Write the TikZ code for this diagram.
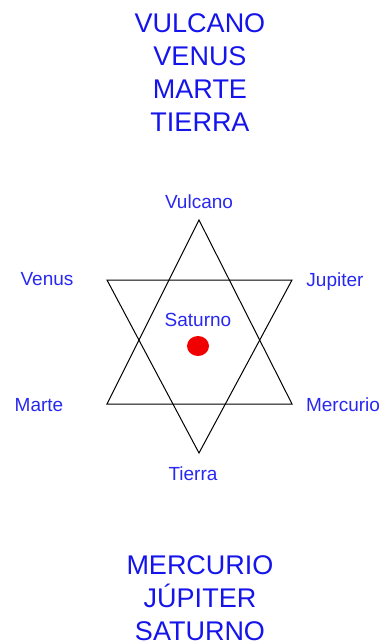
\documentclass[tikz,border=0pt]{standalone}
\usepackage{fontspec}
\setmainfont{Liberation Sans}
\definecolor{bigblue}{RGB}{20,20,235}
\definecolor{lblblue}{RGB}{40,40,240}
\definecolor{dotred}{RGB}{240,0,0}
\begin{document}
\begin{tikzpicture}[x=1pt,y=-1pt,
  bigtxt/.style={text=bigblue,font=\fontsize{27}{33}\selectfont,align=center,inner sep=0pt},
  lbl/.style={text=lblblue,font=\fontsize{19}{22}\selectfont,inner sep=0pt},
  edge/.style={draw=black,line width=1pt}]
\useasboundingbox (0,0) rectangle (384,641);
\node[bigtxt] (top) at (200,73) {VULCANO\\VENUS\\MARTE\\TIERRA};
\node[bigtxt] (bot) at (200,598) {MERCURIO\\JÚPITER\\SATURNO};
% star vertices
\coordinate (vA) at (199,220);
\coordinate (vL) at (107,404);
\coordinate (vR) at (292,404);
\coordinate (wL) at (107,280);
\coordinate (wR) at (292,280);
\coordinate (wB) at (199,453);
\draw[edge,line join=miter] (vA) -- (vL) -- (vR) -- cycle;
\draw[edge,line join=miter] (wL) -- (wR) -- (wB) -- cycle;
\fill[dotred] (198,346) ellipse (11 and 10);
\node[lbl] (vulcano) at (199,202) {Vulcano};
\node[lbl] (venus) at (47,279) {Venus};
\node[lbl] (jupiter) at (335,282) {Jupiter};
\node[lbl] (saturno) at (198,320) {Saturno};
\node[lbl] (marte) at (39,405) {Marte};
\node[lbl] (mercurio) at (343,405) {Mercurio};
\node[lbl] (tierra) at (193,474) {Tierra};
\end{tikzpicture}
\end{document}
